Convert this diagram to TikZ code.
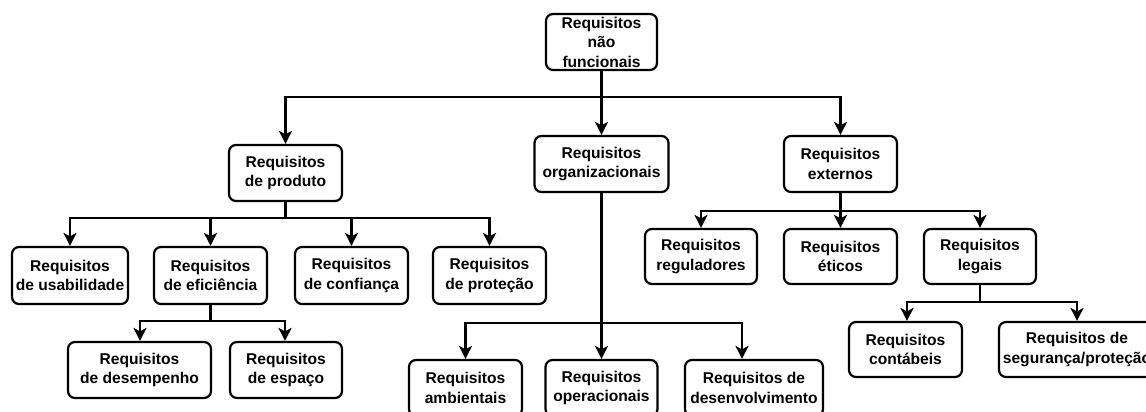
\documentclass[tikz,border=0pt]{standalone}
\usepackage{fontspec}
\setmainfont{Liberation Sans}
\usetikzlibrary{arrows.meta}
\begin{document}
\begin{tikzpicture}[x=1pt,y=-1pt,
  box/.style={draw=black, line width=2.2pt, rounded corners=7pt, fill=white,
    align=center, inner sep=0pt, minimum height=56pt,
    font=\fontsize{15.6}{19.5}\selectfont\bfseries},
  arr/.style={line width=2.2pt, -{Stealth[length=13pt,width=13pt,inset=3.5pt]}},
  ln/.style={line width=2.2pt}]
\useasboundingbox (0,0) rectangle (1146,412);
\fill[white] (0,0) rectangle (1146,412);
\clip (0,0) rectangle (1146,412);

% root
\node[box, minimum width=111pt] (rnf) at (601.5,42) {Requisitos\\não\\funcionais};

% second level
\node[box, minimum width=113pt] (prod) at (285.5,173) {Requisitos\\de produto};
\node[box, minimum width=134pt] (org) at (601.5,164) {Requisitos\\organizacionais};
\node[box, minimum width=113pt] (ext) at (840.5,164) {Requisitos\\externos};

% product requirements
\node[box, minimum width=116pt, minimum height=57pt] (usa) at (70,275.5) {Requisitos\\de usabilidade};
\node[box, minimum width=113pt, minimum height=57pt] (efi) at (210.5,275.5) {Requisitos\\de eficiência};
\node[box, minimum width=113pt, minimum height=57pt] (conf) at (351.5,275.5) {Requisitos\\de confiança};
\node[box, minimum width=113pt, minimum height=57pt] (prot) at (489.5,275.5) {Requisitos\\de proteção};
\node[box, minimum width=143pt] (desemp) at (139.5,370) {Requisitos\\de desempenho};
\node[box, minimum width=112pt] (esp) at (286,370) {Requisitos\\de espaço};

% organisational requirements
\node[box, minimum width=113pt] (amb) at (465.5,388) {Requisitos\\ambientais};
\node[box, minimum width=112pt] (oper) at (601.5,388) {Requisitos\\operacionais};
\node[box, minimum width=138pt] (dev) at (754,388) {Requisitos de\\desenvolvimento};

% external requirements
\node[box, minimum width=112pt, minimum height=55pt] (reg) at (701,256.5) {Requisitos\\reguladores};
\node[box, minimum width=113pt, minimum height=55pt] (eti) at (840.5,256.5) {Requisitos\\éticos};
\node[box, minimum width=112pt, minimum height=55pt] (leg) at (980,256.5) {Requisitos\\legais};
\node[box, minimum width=113pt, minimum height=55pt] (cont) at (905.5,349.5) {Requisitos\\contábeis};
\node[box, minimum width=156pt, minimum height=55pt] (seg) at (1077,349.5) {Requisitos de\\segurança/proteção};

% junction points of the trees
\coordinate (j0) at (601.5,97);
\coordinate (j1) at (285.5,218);
\coordinate (j2) at (210.5,321);
\coordinate (j3) at (601.5,323);
\coordinate (j4) at (840.5,211);
\coordinate (j5) at (980,302);

% root branches
\draw[ln] (rnf.south) -- (j0);
\draw[arr] (j0) -| (prod.north);
\draw[arr] (j0) -- (org.north);
\draw[arr] (j0) -| (ext.north);

% product branches
\draw[ln] (prod.south) -- (j1);
\draw[arr] (j1) -| (usa.north);
\draw[arr] (j1) -| (efi.north);
\draw[arr] (j1) -| (conf.north);
\draw[arr] (j1) -| (prot.north);
\draw[ln] (efi.south) -- (j2);
\draw[arr] (j2) -| ([xshift=0.5pt]desemp.north);
\draw[arr] (j2) -| ([xshift=-1pt]esp.north);

% organisational branches
\draw[arr] (org.south) -- (oper.north);
\draw[arr] (j3) -| (amb.north);
\draw[arr] (j3) -| ([xshift=-12pt]dev.north);

% external branches
\draw[ln] (ext.south) -- (j4);
\draw[arr] (j4) -| (reg.north);
\draw[arr] (j4) -- (eti.north);
\draw[arr] (j4) -| (leg.north);
\draw[ln] (leg.south) -- (j5);
\draw[arr] (j5) -| ([xshift=1.5pt]cont.north);
\draw[arr] (j5) -| (seg.north);
\end{tikzpicture}
\end{document}
